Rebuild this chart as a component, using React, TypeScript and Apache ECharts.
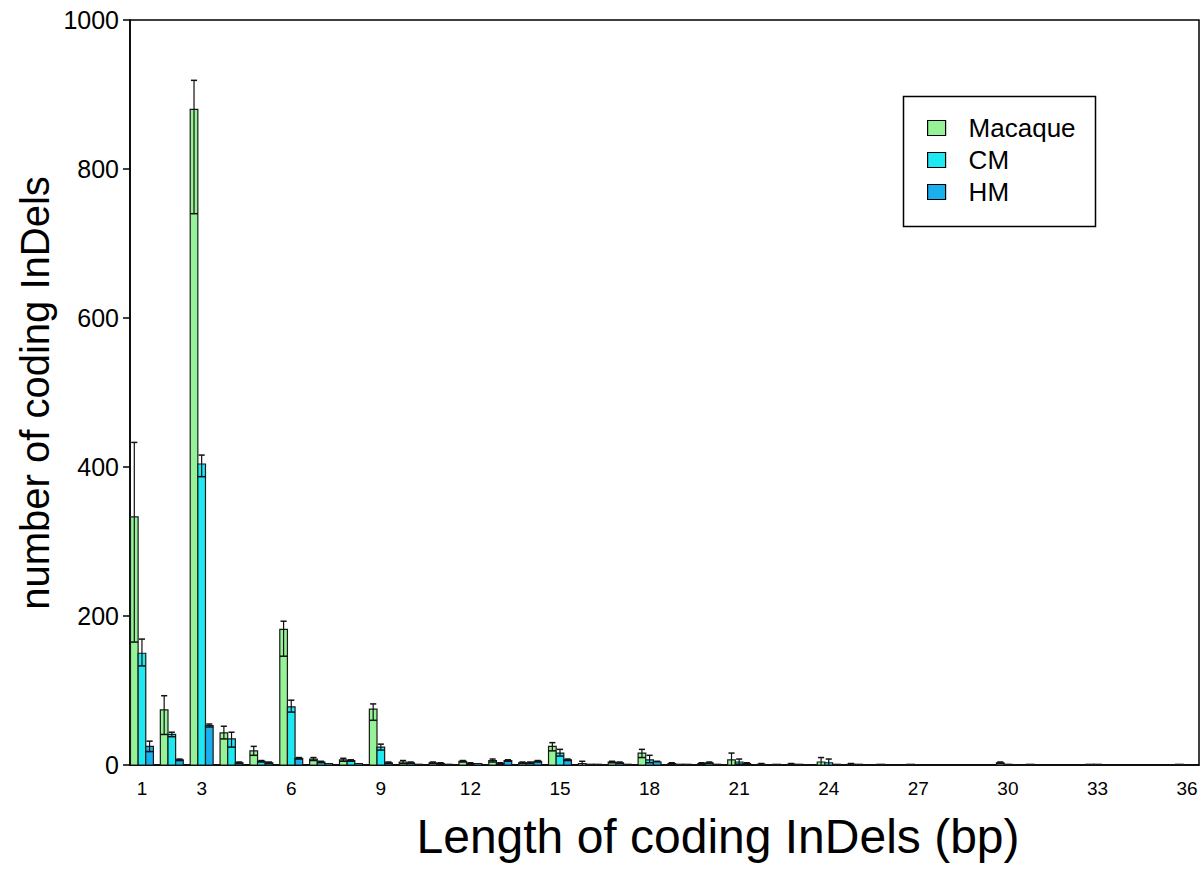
import React, { useEffect, useRef } from "react";
import * as echarts from "echarts";

const lengths = [1,2,3,4,5,6,7,8,9,10,11,12,13,14,15,16,17,18,19,20,21,22,23,24,25,26,27,28,29,30,31,32,33,34,35,36];
const xTickLabels = [1,3,6,9,12,15,18,21,24,27,30,33,36];
const yTicks = [0,200,400,600,800,1000];

const macaque   = [333,74,880,43,19,182,8,7,75,4,3,5,6,3,25,2,4,16,2,2,7,1,1,4,1,1,1,0,0,3,1,0,1,0,0,1];
const macaqueHi = [433,93,919,52,25,193,10,9,82,6,4,6,8,4,30,5,5,21,3,3,16,2,2,10,2,1,1,0,0,4,1,0,1,0,0,1];
const macaqueLo = [165,41,740,35,13,146,6,5,60,2,2,4,4,2,19,0,3,10,1,1,0,0,0,0,0,1,1,0,0,2,1,0,1,0,0,1];

const cm   = [150,41,404,35,5,78,4,6,24,3,2,2,2,3,16,1,3,7,1,3,4,0,1,3,1,0,0,0,0,1,0,0,1,0,0,0];
const cmHi = [169,44,416,44,6,87,5,7,28,4,3,3,3,4,21,1,4,13,1,4,8,0,1,8,1,0,0,0,0,1,0,0,1,0,0,0];
const cmLo = [133,38,387,24,4,71,3,5,20,2,1,1,1,2,12,1,2,3,1,2,1,0,1,0,1,0,0,0,0,1,0,0,1,0,0,0];

const hm   = [25,7,53,3,3,9,2,2,3,1,1,2,6,5,7,1,1,4,1,1,2,1,0,1,0,0,0,0,0,0,0,0,0,0,0,0];
const hmHi = [32,8,55,4,4,10,2,2,4,1,1,2,7,6,8,1,1,5,1,1,3,1,0,1,0,0,0,0,0,0,0,0,0,0,0,0];
const hmLo = [18,6,51,2,2,8,2,2,2,1,1,2,5,4,6,1,1,4,1,1,1,1,0,1,0,0,0,0,0,0,0,0,0,0,0,0];

const seriesNames = ["Macaque", "CM", "HM"];
const colors = ["#96F296", "#1EE8F2", "#1AB0EE"];

const BAR_W = 0.256;
const FONT = "'Liberation Sans', Arial, Helvetica, sans-serif";

function rows(v: number[], lo: number[], hi: number[]) {
  return lengths.map((x, i) => [x, v[i], lo[i], hi[i]]);
}

function makeRender(idx: number) {
  return (params: any, api: any) => {
    const x = api.value(0);
    const v = api.value(1);
    const lo = api.value(2);
    const hi = api.value(3);
    if (!(v > 0)) return { type: "group", children: [] };
    const base = api.coord([x, 0]);
    const top = api.coord([x, v]);
    const bw = api.size([BAR_W, 0])[0];
    const left = base[0] + (idx - 1.5) * bw;
    const cx = left + bw / 2;
    const children: any[] = [
      {
        type: "rect",
        shape: { x: left, y: top[1], width: bw, height: base[1] - top[1] },
        style: { fill: api.visual("color"), stroke: "#1a1a1a", lineWidth: 1.2 },
      },
    ];
    const yHi = api.coord([x, hi])[1];
    const yLo = api.coord([x, lo])[1];
    const cap = bw * 0.8;
    if (hi > v || lo < v) {
      children.push({
        type: "line",
        shape: { x1: cx, y1: yLo, x2: cx, y2: yHi },
        style: { stroke: "#111", lineWidth: 1.2 },
      });
      if (hi > v)
        children.push({
          type: "line",
          shape: { x1: cx - cap / 2, y1: yHi, x2: cx + cap / 2, y2: yHi },
          style: { stroke: "#111", lineWidth: 1.5 },
        });
      if (lo < v && lo > 0)
        children.push({
          type: "line",
          shape: { x1: left, y1: yLo, x2: left + bw, y2: yLo },
          style: { stroke: "#111", lineWidth: 1.5 },
        });
    }
    return { type: "group", children };
  };
}

export default function App() {
  const ref = useRef<HTMLDivElement>(null);
  useEffect(() => {
    if (!ref.current) return;
    const chart = echarts.init(ref.current, null, { renderer: "svg" });
    const data = [
      rows(macaque, macaqueLo, macaqueHi),
      rows(cm, cmLo, cmHi),
      rows(hm, hmLo, hmHi),
    ];
    chart.setOption({
      animation: false,
      backgroundColor: "#ffffff",
      textStyle: { fontFamily: FONT },
      grid: {
        left: 130,
        top: 20,
        right: 4,
        bottom: 113,
        show: true,
        borderColor: "#000",
        borderWidth: 1.5,
        backgroundColor: "transparent",
      },
      xAxis: {
        type: "value",
        min: 0.6,
        max: 36.4,
        splitLine: { show: false },
        axisLine: { show: true, onZero: false, lineStyle: { color: "#000", width: 1.5 } },
        axisTick: { show: false },
        axisLabel: {
          customValues: xTickLabels,
          color: "#000",
          fontSize: 19,
          fontFamily: FONT,
          margin: 14,
        },
      },
      yAxis: {
        type: "value",
        min: 0,
        max: 1000,
        interval: 200,
        splitLine: { show: false },
        axisLine: { show: true, lineStyle: { color: "#000", width: 1.5 } },
        axisTick: { show: true, length: 7, lineStyle: { color: "#000", width: 1.5 } },
        axisLabel: {
          color: "#000",
          fontSize: 25,
          fontFamily: FONT,
          margin: 11,
          formatter: (v: number) => (yTicks.includes(v) ? String(v) : ""),
        },
      },
      legend: {
        orient: "vertical",
        left: 922,
        top: 110,
        itemWidth: 18,
        itemHeight: 15,
        itemGap: 6,
        icon: "rect",
        itemStyle: { borderColor: "#000", borderWidth: 1.2 },
        textStyle: { fontSize: 26, color: "#000", fontFamily: FONT, padding: [0, 0, 0, 18] },
        data: seriesNames,
      },
      graphic: [
        {
          type: "rect",
          left: 901,
          top: 94,
          shape: { width: 192, height: 130 },
          style: { fill: "none", stroke: "#000", lineWidth: 1.5 },
          z: 1,
        },
        {
          type: "text",
          x: 35,
          y: 393,
          rotation: Math.PI / 2,
          style: {
            text: "number of coding InDels",
            fontSize: 40,
            fontFamily: FONT,
            fill: "#000",
            textAlign: "center",
            textVerticalAlign: "middle",
          },
        },
        {
          type: "text",
          x: 718,
          y: 836,
          style: {
            text: "Length of coding InDels (bp)",
            fontSize: 48,
            fontFamily: FONT,
            fill: "#000",
            textAlign: "center",
            textVerticalAlign: "middle",
          },
        },
      ],
      series: seriesNames.map((name, i) => ({
        name,
        type: "custom",
        renderItem: makeRender(i),
        encode: { x: 0, y: 1 },
        itemStyle: { color: colors[i], borderColor: "#000", borderWidth: 1.2 },
        data: data[i],
        clip: true,
      })),
    });
    return () => chart.dispose();
  }, []);
  return (
    <div
      ref={ref}
      style={{ position: "fixed", left: 0, top: 0, width: 1203, height: 878, background: "#fff" }}
    />
  );
}
